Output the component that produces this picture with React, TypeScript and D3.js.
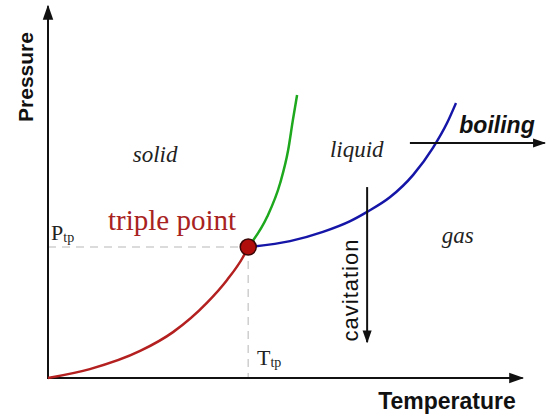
import * as d3 from 'd3';

// Phase-boundary curves, in chart units (temperature, pressure) on a 0–10 grid.
const sublimationT = [0, 0.89, 1.96, 2.66, 3.38, 3.81, 4.15, 4.26];
const sublimationP = [0, 0.24, 0.73, 1.24, 2.03, 2.65, 3.27, 3.54];
const meltingT = [4.26, 4.66, 4.94, 5.11, 5.21, 5.3];
const meltingP = [3.54, 4.35, 5.27, 6.16, 6.97, 7.65];
const boilingT = [4.26, 5.15, 5.85, 6.43, 6.79, 7.28, 7.77, 8.19, 8.49, 8.68];
const boilingP = [3.54, 3.7, 3.95, 4.24, 4.49, 4.89, 5.49, 6.22, 6.89, 7.43];

const tripleT = 4.26;
const tripleP = 3.54;

const regionLabels = ['solid', 'liquid', 'gas'];
const regionT = [2.28, 6.57, 8.72];
const regionP = [5.84, 5.97, 3.65];

// Process arrows: boiling (isobaric heating), cavitation (pressure drop)
const boilingArrowT = [7.7, 10.57];
const boilingArrowP = [6.35, 6.35];
const cavitationArrowT = [6.79, 6.79];
const cavitationArrowP = [5.16, 0.97];

const W = 546;
const H = 416;

export default function App() {
  const x = d3.scaleLinear().domain([0, 10]).range([48, 518]);
  const y = d3.scaleLinear().domain([0, 10]).range([378, 8]);

  const line = d3
    .line<[number, number]>()
    .x((d) => x(d[0]))
    .y((d) => y(d[1]))
    .curve(d3.curveMonotoneX);

  const zip = (a: number[], b: number[]) => a.map((v, i) => [v, b[i]] as [number, number]);

  const serif = '"Liberation Serif", "DejaVu Serif", serif';
  const sans = '"Liberation Sans", Arial, sans-serif';

  return (
    <svg
      width={W}
      height={H}
      style={{ position: 'absolute', left: 0, top: 0, background: '#fff' }}
    >
      <defs>
        <marker id="axhead" viewBox="0 0 10 10" refX="9" refY="5" markerWidth="15" markerHeight="15" orient="auto" markerUnits="userSpaceOnUse">
          <path d="M0,1.5 L10,5 L0,8.5 z" fill="#111" />
        </marker>
        <marker id="arhead" viewBox="0 0 10 10" refX="9" refY="5" markerWidth="13" markerHeight="13" orient="auto" markerUnits="userSpaceOnUse">
          <path d="M0,1.5 L10,5 L0,8.5 z" fill="#111" />
        </marker>
      </defs>

      {/* dashed guides to the triple point */}
      <line x1={x(0)} x2={x(tripleT)} y1={y(tripleP)} y2={y(tripleP)} stroke="#cfcfcf" strokeWidth={1.5} strokeDasharray="8,6" />
      <line x1={x(tripleT)} x2={x(tripleT)} y1={y(tripleP)} y2={y(0)} stroke="#cfcfcf" strokeWidth={1.5} strokeDasharray="8,6" />

      {/* axes */}
      <line x1={x(0)} x2={x(0)} y1={y(0) + 1} y2={y(10.05)} stroke="#111" strokeWidth={2} markerEnd="url(#axhead)" />
      <line x1={x(0) - 1} x2={x(10.1)} y1={y(0)} y2={y(0)} stroke="#111" strokeWidth={2} markerEnd="url(#axhead)" />

      {/* phase boundaries */}
      <path d={line(zip(sublimationT, sublimationP)) ?? ''} fill="none" stroke="#b3201f" strokeWidth={2.5} />
      <path d={line(zip(meltingT, meltingP)) ?? ''} fill="none" stroke="#1ea81e" strokeWidth={2.5} />
      <path d={line(zip(boilingT, boilingP)) ?? ''} fill="none" stroke="#1515a8" strokeWidth={2.5} />

      {/* process arrows */}
      <line
        x1={x(boilingArrowT[0])}
        x2={x(boilingArrowT[1])}
        y1={y(boilingArrowP[0])}
        y2={y(boilingArrowP[1])}
        stroke="#111"
        strokeWidth={2}
        markerEnd="url(#arhead)"
      />
      <line
        x1={x(cavitationArrowT[0])}
        x2={x(cavitationArrowT[1])}
        y1={y(cavitationArrowP[0])}
        y2={y(cavitationArrowP[1])}
        stroke="#111"
        strokeWidth={2}
        markerEnd="url(#arhead)"
      />

      {/* triple point */}
      <circle cx={x(tripleT)} cy={y(tripleP)} r={8} fill="#b00d0d" stroke="#3a0606" strokeWidth={1.5} />

      {/* region labels */}
      {regionLabels.map((l, i) => (
        <text
          key={l}
          x={x(regionT[i])}
          y={y(regionP[i])}
          textAnchor="middle"
          fontFamily={serif}
          fontStyle="italic"
          fontSize={23}
          fill="#222"
        >
          {l}
        </text>
      ))}

      <text x={172} y={230} textAnchor="middle" fontFamily={serif} fontSize={29} fill="#a82222">
        triple point
      </text>

      <text x={51} y={240} fontFamily={serif} fontSize={22} fill="#222">
        P<tspan fontSize={14} dy={2}>tp</tspan>
      </text>
      <text x={257} y={365} fontFamily={serif} fontSize={22} fill="#222">
        T<tspan fontSize={14} dy={2}>tp</tspan>
      </text>

      <text x={497} y={133} textAnchor="middle" fontFamily={sans} fontWeight="bold" fontStyle="italic" fontSize={23} fill="#111">
        boiling
      </text>
      <text
        transform="translate(358,290) rotate(-90)"
        textAnchor="middle"
        fontFamily={sans}
        fontSize={22}
        letterSpacing={1}
        fill="#111"
      >
        cavitation
      </text>

      {/* axis titles */}
      <text transform="translate(33,77) rotate(-90)" textAnchor="middle" fontFamily={sans} fontWeight="bold" fontSize={21} fill="#111">
        Pressure
      </text>
      <text x={447} y={409} textAnchor="middle" fontFamily={sans} fontWeight="bold" fontSize={23} fill="#111">
        Temperature
      </text>
    </svg>
  );
}
